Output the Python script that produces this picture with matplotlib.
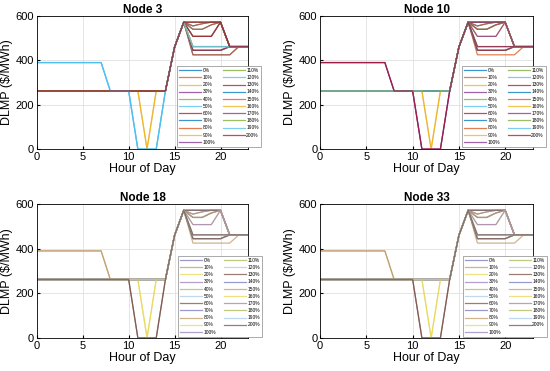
import matplotlib
matplotlib.use('Agg')
import matplotlib.pyplot as plt
import numpy as np

plt.rcParams['font.family'] = ['Liberation Sans', 'DejaVu Sans']

hours = list(range(24))
labels = [str(p) + '%' for p in range(0, 210, 10)]

# hour 0-9
morning = {
    'hi': [390, 390, 390, 390, 390, 390, 390, 390, 262, 262],
    'lo': [262, 262, 262, 262, 262, 262, 262, 262, 262, 262],
}
# hour 10-14
midday = {
    'flat': [262, 262, 262, 262, 262],
    'dip2': [262, 0, 0, 0, 262],
    'dip1': [262, 262, 0, 262, 262],
}
# hour 15-16
ramp = [460, 572]
# hour 17-23
evening = {
    'e1': [572, 572, 572, 572, 462, 462, 462],
    'e2': [555, 565, 572, 572, 462, 462, 462],
    'e3': [540, 540, 560, 572, 462, 462, 462],
    'e4': [508, 508, 508, 572, 462, 462, 462],
    'e5': [462, 462, 462, 462, 462, 462, 462],
    'e6': [445, 445, 445, 445, 462, 462, 462],
    'e7': [425, 425, 425, 425, 425, 462, 462],
}

node3_morning = ['lo', 'lo', 'lo', 'lo', 'lo', 'hi', 'lo', 'lo', 'lo', 'lo', 'lo',
                 'lo', 'hi', 'lo', 'lo', 'lo', 'lo', 'lo', 'lo', 'hi', 'lo']
node3_midday = ['flat', 'flat', 'flat', 'flat', 'flat', 'dip2', 'flat', 'flat', 'flat', 'dip1', 'flat',
                'flat', 'dip2', 'flat', 'flat', 'flat', 'dip1', 'flat', 'flat', 'dip2', 'flat']
node3_evening = ['e7', 'e7', 'e6', 'e6', 'e6', 'e6', 'e6', 'e2', 'e2', 'e5', 'e4',
                 'e4', 'e5', 'e4', 'e3', 'e3', 'e5', 'e1', 'e1', 'e5', 'e1']

node10_morning = ['lo', 'lo', 'lo', 'lo', 'lo', 'lo', 'lo', 'lo', 'lo', 'lo', 'hi',
                  'lo', 'lo', 'lo', 'lo', 'lo', 'lo', 'hi', 'lo', 'lo', 'hi']
node10_midday = ['flat', 'flat', 'flat', 'flat', 'flat', 'flat', 'flat', 'flat', 'flat', 'dip1', 'dip2',
                 'flat', 'flat', 'flat', 'flat', 'flat', 'dip1', 'dip2', 'flat', 'flat', 'dip2']
node10_evening = ['e1', 'e7', 'e6', 'e6', 'e6', 'e6', 'e6', 'e2', 'e2', 'e1', 'e1',
                  'e3', 'e1', 'e1', 'e3', 'e3', 'e4', 'e4', 'e5', 'e5', 'e5']

node18_morning = ['lo', 'lo', 'lo', 'lo', 'lo', 'lo', 'lo', 'lo', 'hi', 'lo', 'lo',
                  'lo', 'lo', 'lo', 'lo', 'hi', 'lo', 'lo', 'lo', 'lo', 'lo']
node18_midday = ['flat', 'flat', 'flat', 'flat', 'flat', 'flat', 'flat', 'flat', 'flat', 'dip1', 'flat',
                 'flat', 'flat', 'dip2', 'flat', 'flat', 'dip1', 'flat', 'flat', 'flat', 'dip2']
node18_evening = ['e1', 'e7', 'e6', 'e6', 'e6', 'e6', 'e6', 'e2', 'e2', 'e1', 'e1',
                  'e3', 'e1', 'e1', 'e3', 'e3', 'e4', 'e4', 'e5', 'e5', 'e5']

node33_morning = node18_morning
node33_midday = node18_midday
node33_evening = node18_evening

matlab_colors = ['#0072BD', '#D95319', '#EDB120', '#7E2F8E', '#77AC30', '#4DBEEE', '#A2142F']
muted_colors = ['#7777BB', '#C09A66', '#E8D85A', '#9A80BF', '#AAB855', '#A8CCEE', '#7A5048']

nodes = [
    ('Node 3', node3_morning, node3_midday, node3_evening, matlab_colors),
    ('Node 10', node10_morning, node10_midday, node10_evening, matlab_colors),
    ('Node 18', node18_morning, node18_midday, node18_evening, muted_colors),
    ('Node 33', node33_morning, node33_midday, node33_evening, muted_colors),
]

axes_pos = [
    [0.067, 0.598, 0.384, 0.359],
    [0.582, 0.598, 0.387, 0.359],
    [0.067, 0.089, 0.384, 0.361],
    [0.582, 0.089, 0.387, 0.361],
]
legend_pos = [(0.322, 0.604), (0.840, 0.604), (0.324, 0.092), (0.842, 0.092)]

fig = plt.figure(figsize=(5.5, 3.71), dpi=100)

for k, (name, mo, md, ev, cols) in enumerate(nodes):
    ax = fig.add_axes(axes_pos[k])
    for i in range(len(labels)):
        y = morning[mo[i]] + midday[md[i]] + ramp + evening[ev[i]]
        ax.plot(hours, y, color=cols[i % 7], lw=0.9, alpha=0.75, label=labels[i])
    ax.set_xlim(0, 23)
    ax.set_ylim(0, 600)
    ax.set_xticks([0, 5, 10, 15, 20])
    ax.set_yticks([0, 200, 400, 600])
    ax.grid(True, color='#e0e0e0', lw=0.6)
    ax.tick_params(labelsize=8, length=2, direction='in', pad=2)
    ax.set_title(name, fontsize=8.5, fontweight='bold', pad=2)
    ax.set_xlabel('Hour of Day', fontsize=9, labelpad=1)
    ax.set_ylabel('DLMP ($/MWh)', fontsize=9, labelpad=2)
    for s in ax.spines.values():
        s.set_linewidth(0.6)
    leg = ax.legend(ncol=2, fontsize=3.5, loc='lower left',
                    bbox_to_anchor=legend_pos[k], bbox_transform=fig.transFigure,
                    handlelength=4.5, handletextpad=0.3, columnspacing=1.6,
                    labelspacing=0.45, borderpad=0.45, borderaxespad=0,
                    fancybox=False, framealpha=1)
    leg.get_frame().set_edgecolor('#888888')
    leg.get_frame().set_linewidth(0.5)

fig.savefig('out.png', dpi=100)
